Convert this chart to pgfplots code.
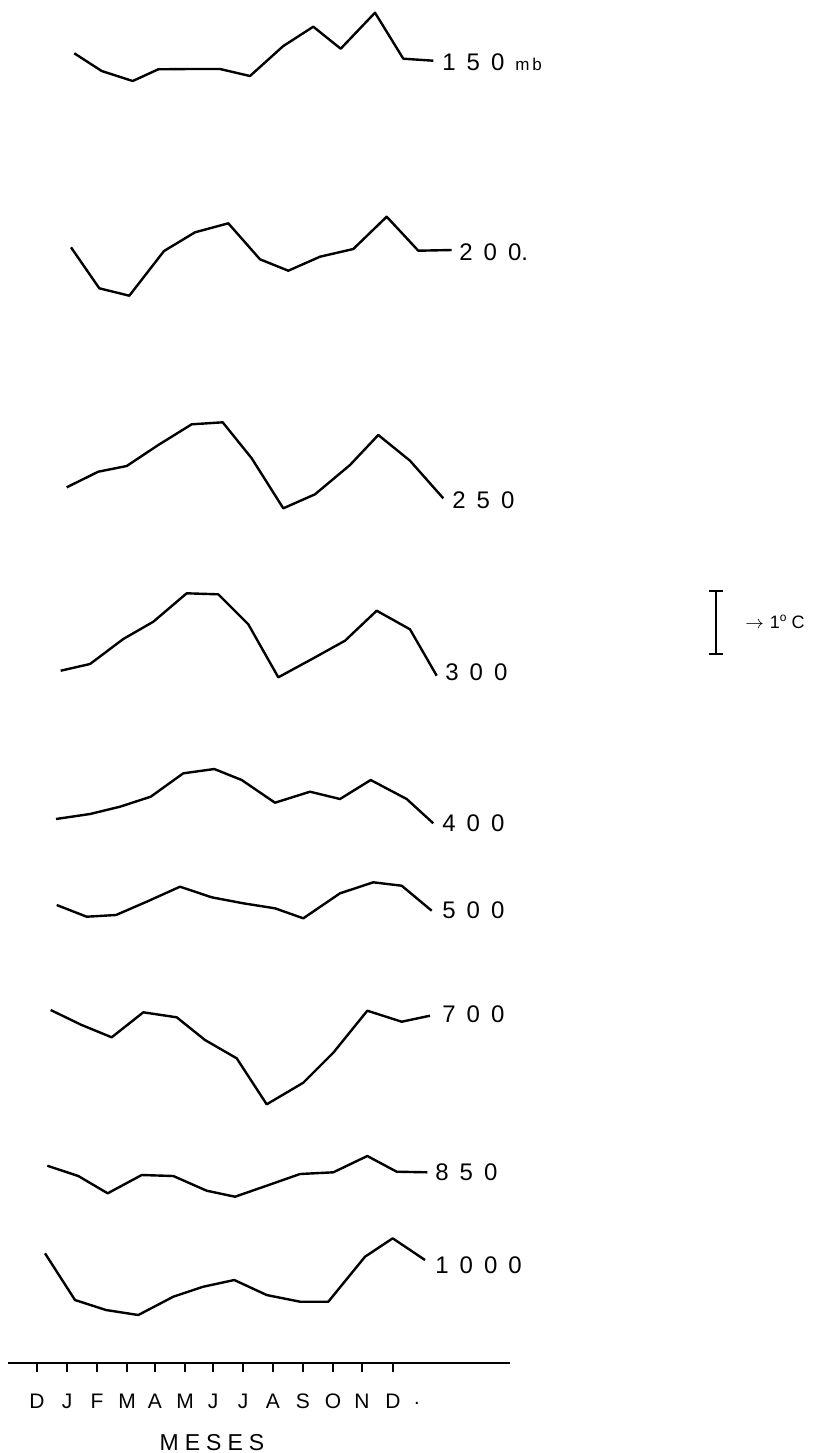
\documentclass[border=0pt]{standalone}
\usepackage{pgfplots}
\pgfplotsset{compat=1.18}
\usepackage{fontspec}
\setmainfont{Liberation Sans}
\setsansfont{Liberation Sans}
\newcommand{\g}{\hspace{5.5pt}}
\begin{document}
\begin{tikzpicture}
\begin{axis}[
    name=main,
    hide axis,
    scale only axis,
    x=0.5pt, y=0.5pt,
    y dir=reverse,
    xmin=0, xmax=826, ymin=0, ymax=1453,
    clip=false,
    curve/.style={black, solid, line width=1.2pt, mark=none, line join=round},
]
\path (axis cs:0,0) rectangle (axis cs:826,1453);

% 150 mb
\addplot[curve] coordinates {(74.3,53.3) (101.7,71) (132.7,81) (158.3,69.3) (189,69) (220,69) (250,76)
    (283.3,46) (313.3,26.7) (340.7,48.7) (375,12.7) (403.3,58.7) (433.3,60.7)};
% 200
\addplot[curve] coordinates {(71,247.3) (99.3,288.3) (129.3,295.7) (164,251) (195,232.3) (228.3,223.3)
    (260,259.3) (288.3,270.7) (320,256.7) (353.3,249) (386.7,216.7) (418.3,250.7) (451.7,250)};
% 250
\addplot[curve] coordinates {(66.7,487.3) (98.3,471.7) (126.7,466) (158.3,445) (191.7,424.3) (222.7,422.3)
    (251.7,458.3) (283.3,508.3) (315,494.3) (350,465) (378.3,435) (410,460.7) (443.3,498.3)};
% 300
\addplot[curve] coordinates {(60.7,670.7) (90,664) (123.3,639) (153.3,621.7) (186.7,593.3) (218.3,594.3)
    (248.3,624.3) (278.3,677.3) (313.3,658.3) (345,640.7) (376.7,610.7) (410,629.3) (436.7,675.7)};
% 400
\addplot[curve] coordinates {(56,819) (90,814) (120,806.7) (150.7,796.7) (183.3,773.3) (214.3,769)
    (241.7,780) (275,802.7) (310,791.7) (340,799) (370.7,780) (406.7,799) (433.3,823.3)};
% 500
\addplot[curve] coordinates {(56.7,905) (86.7,916.7) (116,915) (146.7,901.7) (180,886.7) (211.7,897.3)
    (243.3,903.3) (275,908.3) (303.3,918.3) (340,893.3) (373.3,882.3) (401.7,885.7) (431.7,910.7)};
% 700
\addplot[curve] coordinates {(50.7,1010) (81,1024.7) (111.7,1037.3) (143.3,1012.3) (176.7,1017.3) (205,1040)
    (236.7,1058.3) (266.7,1104.3) (303.3,1082.7) (333.3,1052.7) (367.3,1010.7) (401.7,1021.7) (430,1015.7)};
% 850
\addplot[curve] coordinates {(47.3,1165.7) (78.3,1176) (107.7,1193.3) (141.7,1175) (173.3,1176) (206.7,1190.7)
    (235,1196.7) (266.7,1185.7) (300,1174) (333.3,1172.3) (367.3,1156) (396.7,1171.7) (427.3,1172.3)};
% 1000
\addplot[curve] coordinates {(45,1253.3) (75,1300) (106,1310) (138.3,1315) (173.3,1296.7) (203.3,1286.7)
    (234.3,1280) (266.7,1295) (300,1301.7) (328.3,1301.7) (365,1256.7) (392.7,1238.3) (425,1260)};

% scale bar (1 C)
\addplot[black, solid, line width=1.2pt, mark=-, mark size=3.5pt, mark options={solid, line width=1.2pt}]
    coordinates {(716,591) (716,654)};

\begin{scope}[every node/.style={anchor=west, inner sep=0pt, font=\fontsize{12}{14}\selectfont}]
\node at (axis cs:442,62) {1\g5\g0\g{\fontsize{8.5}{10}\selectfont m\,b}};
\node at (axis cs:459,252) {2\g0\g0.};
\node at (axis cs:452,500) {2\g5\g0};
\node at (axis cs:445,672) {3\g0\g0};
\node at (axis cs:442,823) {4\g0\g0};
\node at (axis cs:442,910) {5\g0\g0};
\node at (axis cs:442,1014) {7\g0\g0};
\node at (axis cs:435,1172) {8\g5\g0};
\node at (axis cs:435,1265) {1\g0\g0\g0};
\node at (axis cs:745,622) {{\fontsize{9}{10}\selectfont$\rightarrow$\hspace{3pt}1$^{\mathrm{o}}$\hspace{2pt}C}};
\end{scope}
\node[font=\fontsize{11.5}{13}\selectfont, inner sep=0pt] at (axis cs:212,1443) {M\hspace{3pt}E\hspace{3pt}S\hspace{3pt}E\hspace{3pt}S};
\node[inner sep=0pt] at (axis cs:417,1403) {.};
\coordinate (base) at (axis cs:8,1363);
\end{axis}

\begin{axis}[
    at={(base)}, anchor=south west,
    scale only axis,
    x=0.5pt, y=0.5pt,
    xmin=8, xmax=510, ymin=0, ymax=10,
    axis x line=bottom, axis y line=none,
    x axis line style={-, line width=1pt},
    xtick={37,67,97,127,155,185,213,243,273,303,333,362,393},
    xticklabels={D,J,F,M,A,M,J,J,A,S,O,N,D},
    tick align=outside,
    major tick length=4.5pt,
    xtick style={black, line width=0.8pt},
    xticklabel style={font=\fontsize{10.5}{12}\selectfont, yshift=-7.5pt},
]
\end{axis}
\end{tikzpicture}
\end{document}
